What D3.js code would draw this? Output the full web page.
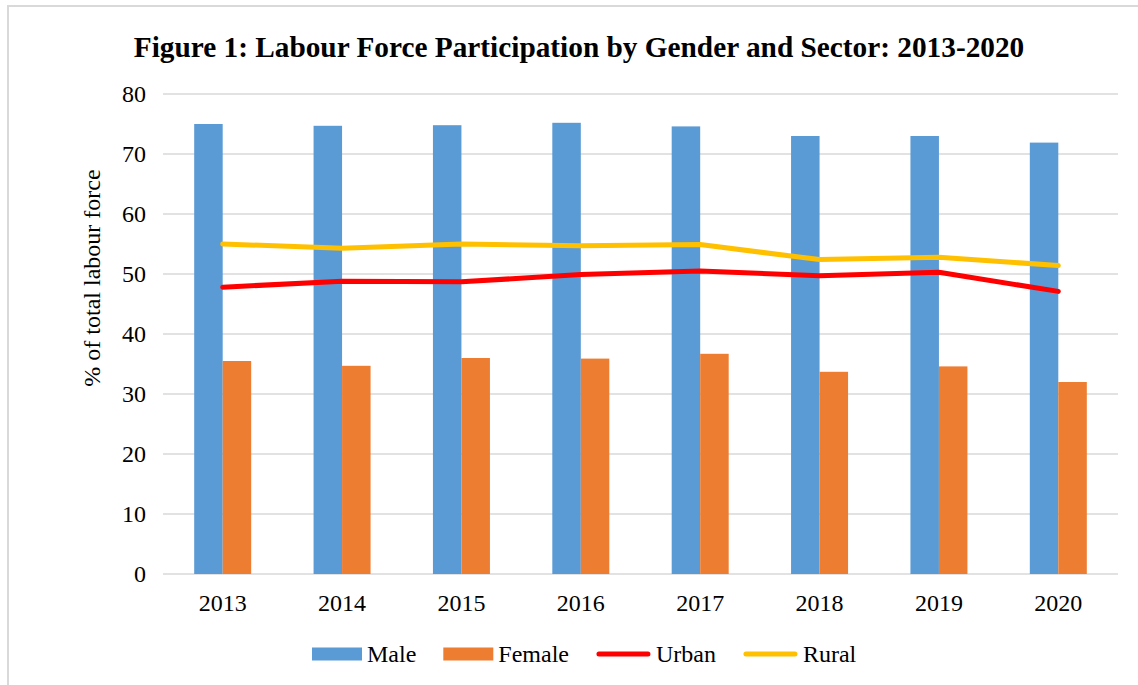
<!DOCTYPE html>
<html>
<head>
<meta charset="utf-8">
<script src="https://cdn.jsdelivr.net/npm/d3@7"></script>
<style>
  body { margin: 0; background: #fff; }
  text { font-family: "Liberation Serif", "Times New Roman", serif; fill: #000; }
</style>
</head>
<body>
<div class="chart"></div>
<script>
// Data
const years = ["2013", "2014", "2015", "2016", "2017", "2018", "2019", "2020"];
const male = [75.0, 74.7, 74.8, 75.2, 74.6, 73.0, 73.0, 71.9];
const female = [35.5, 34.7, 36.0, 35.9, 36.7, 33.7, 34.6, 32.0];
const urban = [47.8, 48.8, 48.7, 49.9, 50.5, 49.7, 50.3, 47.1];
const rural = [55.0, 54.3, 55.0, 54.7, 54.9, 52.4, 52.8, 51.4];
const yTicks = [0, 10, 20, 30, 40, 50, 60, 70, 80];

const width = 1138;
const height = 685;
const margin = { top: 94, right: 20, bottom: 111, left: 163 };

const colors = { Male: "#5B9BD5", Female: "#ED7D31", Urban: "#FF0000", Rural: "#FFC000" };

const svg = d3.select(".chart")
    .append("svg")
    .attr("width", width)
    .attr("height", height);

// outer chart border (only top and left show in the frame)
svg.append("rect")
    .attr("x", 8).attr("y", 6)
    .attr("width", width + 20).attr("height", height + 20)
    .attr("fill", "none")
    .attr("stroke", "#d9d9d9")
    .attr("stroke-width", 2);

const x = d3.scaleBand()
    .domain(years)
    .range([margin.left, width - margin.right])
    .paddingInner(0)
    .paddingOuter(0);

const y = d3.scaleLinear()
    .domain([0, 80])
    .range([height - margin.bottom, margin.top]);

const barW = 28.5;

// gridlines
svg.append("g")
    .selectAll("line")
    .data(yTicks)
    .join("line")
    .attr("x1", margin.left)
    .attr("x2", width - margin.right)
    .attr("y1", d => y(d))
    .attr("y2", d => y(d))
    .attr("stroke", "#d9d9d9")
    .attr("stroke-width", 1.5);

// y tick labels
svg.append("g")
    .selectAll("text")
    .data(yTicks)
    .join("text")
    .attr("x", 146)
    .attr("y", d => y(d))
    .attr("dy", "0.35em")
    .attr("text-anchor", "end")
    .attr("font-size", 24)
    .text(d => d);

// x labels
svg.append("g")
    .selectAll("text")
    .data(years)
    .join("text")
    .attr("x", d => x(d) + x.bandwidth() / 2)
    .attr("y", 611)
    .attr("text-anchor", "middle")
    .attr("font-size", 24)
    .text(d => d);

// bars
const center = d => x(d) + x.bandwidth() / 2;

svg.append("g")
    .selectAll("rect")
    .data(years)
    .join("rect")
    .attr("x", d => center(d) - barW)
    .attr("width", barW)
    .attr("y", (d, i) => y(male[i]))
    .attr("height", (d, i) => y(0) - y(male[i]))
    .attr("fill", colors.Male);

svg.append("g")
    .selectAll("rect")
    .data(years)
    .join("rect")
    .attr("x", d => center(d))
    .attr("width", barW)
    .attr("y", (d, i) => y(female[i]))
    .attr("height", (d, i) => y(0) - y(female[i]))
    .attr("fill", colors.Female);

// lines
const line = d3.line()
    .x((d, i) => center(years[i]))
    .y(d => y(d));

[["Urban", urban], ["Rural", rural]].forEach(([name, values]) => {
    svg.append("path")
        .attr("d", line(values))
        .attr("fill", "none")
        .attr("stroke", colors[name])
        .attr("stroke-width", 5)
        .attr("stroke-linecap", "round")
        .attr("stroke-linejoin", "round");
});

// title
svg.append("text")
    .attr("x", 579)
    .attr("y", 57)
    .attr("text-anchor", "middle")
    .attr("font-size", 29.3)
    .attr("font-weight", "bold")
    .text("Figure 1: Labour Force Participation by Gender and Sector: 2013-2020");

// y axis title
svg.append("text")
    .attr("transform", "translate(92,278) rotate(-90)")
    .attr("text-anchor", "middle")
    .attr("dy", "0.35em")
    .attr("font-size", 24)
    .text("% of total labour force");

// legend
const legendItems = [
    { name: "Male", type: "bar" },
    { name: "Female", type: "bar" },
    { name: "Urban", type: "line" },
    { name: "Rural", type: "line" }
];
const legend = svg.append("g");
let lx = 312;
const ly = 654;
legendItems.forEach(item => {
    if (item.type === "bar") {
        legend.append("rect")
            .attr("x", lx).attr("y", ly - 6.5)
            .attr("width", 50).attr("height", 13)
            .attr("fill", colors[item.name]);
        lx += 50;
    } else {
        legend.append("line")
            .attr("x1", lx + 3).attr("x2", lx + 52)
            .attr("y1", ly).attr("y2", ly)
            .attr("stroke", colors[item.name])
            .attr("stroke-width", 5)
            .attr("stroke-linecap", "round");
        lx += 55;
    }
    const t = legend.append("text")
        .attr("x", lx + 5)
        .attr("y", ly)
        .attr("dy", "0.33em")
        .attr("font-size", 24)
        .text(item.name);
    lx += 5 + t.node().getComputedTextLength() + 27;
});
</script>
</body>
</html>
